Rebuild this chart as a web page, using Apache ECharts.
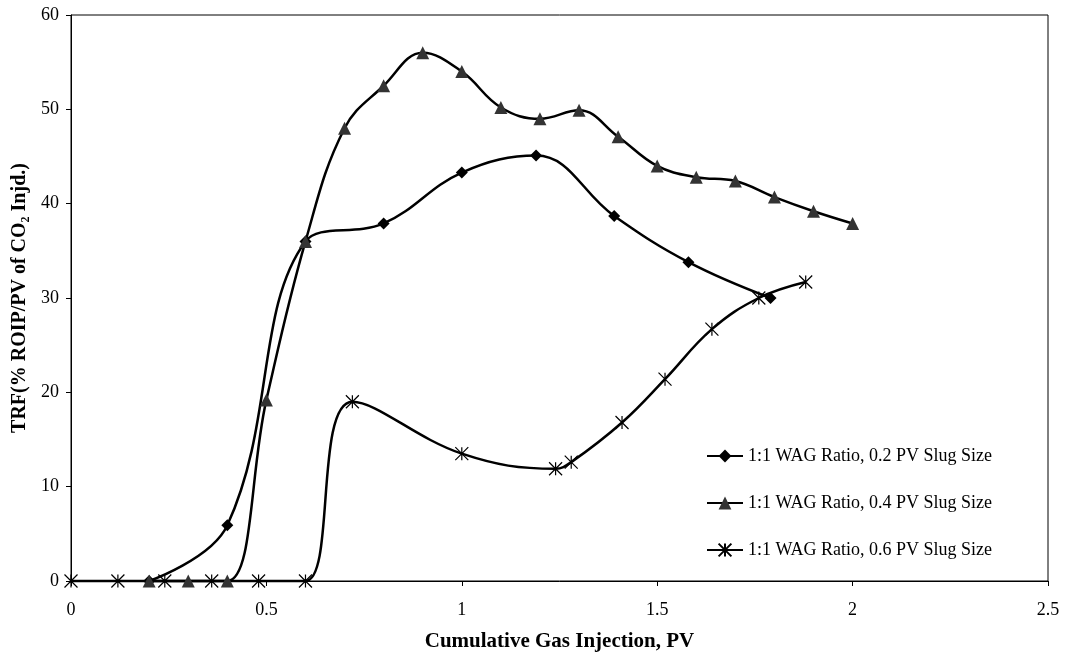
<!DOCTYPE html>
<html>
<head>
<meta charset="utf-8">
<script src="https://cdn.jsdelivr.net/npm/echarts@6/dist/echarts.min.js"></script>
<style>html,body{margin:0;padding:0;background:#fff;}#c{width:1069px;height:657px;}</style>
</head>
<body>
<div id="c"></div>
<script>
const seriesNames = ['1:1 WAG Ratio, 0.2 PV Slug Size', '1:1 WAG Ratio, 0.4 PV Slug Size', '1:1 WAG Ratio, 0.6 PV Slug Size'];
const s02x = [0.2, 0.4, 0.6, 0.8, 1.0, 1.19, 1.39, 1.58, 1.79];
const s02y = [0, 5.9, 36.0, 37.9, 43.3, 45.1, 38.7, 33.8, 30.0];
const s04x = [0.2, 0.3, 0.4, 0.5, 0.6, 0.7, 0.8, 0.9, 1.0, 1.1, 1.2, 1.3, 1.4, 1.5, 1.6, 1.7, 1.8, 1.9, 2.0];
const s04y = [0, 0, 0, 19.2, 36.0, 48.0, 52.5, 56.0, 54.0, 50.2, 49.0, 49.9, 47.1, 44.0, 42.8, 42.4, 40.7, 39.2, 37.9];
const s06x = [0, 0.12, 0.24, 0.36, 0.48, 0.6, 0.72, 1.0, 1.24, 1.28, 1.41, 1.52, 1.64, 1.76, 1.88];
const s06y = [0, 0, 0, 0, 0, 0, 19.0, 13.5, 11.9, 12.6, 16.8, 21.4, 26.7, 30.0, 31.7];
const xTicks = [0, 0.5, 1, 1.5, 2, 2.5];
const yTicks = [0, 10, 20, 30, 40, 50, 60];

function pairs(xs, ys) { return xs.map((x, i) => [x, ys[i]]); }
const font = '"Liberation Serif", "Times New Roman", serif';
const starPath = 'path://M0,0L10,10M10,0L0,10M5,0L5,10';

const chart = echarts.init(document.getElementById('c'), null, {renderer: 'canvas'});
chart.setOption({
  animation: false,
  backgroundColor: '#fff',
  grid: {left: 71, right: 21, top: 15, bottom: 76, containLabel: false, outerBoundsMode: 'none', show: true, borderColor: '#000', borderWidth: 1, backgroundColor: 'transparent'},
  xAxis: {
    type: 'value', min: xTicks[0], max: xTicks[xTicks.length - 1], interval: 0.5,
    axisLine: {lineStyle: {color: '#000', width: 1}},
    axisTick: {show: true, inside: false, length: 5, lineStyle: {color: '#000'}},
    splitLine: {show: false},
    axisLabel: {color: '#000', fontFamily: font, fontSize: 18, margin: 20},
    name: 'Cumulative Gas Injection, PV', nameLocation: 'middle', nameGap: 50,
    nameTextStyle: {color: '#000', fontFamily: font, fontSize: 21, fontWeight: 'bold'}
  },
  yAxis: {
    type: 'value', min: yTicks[0], max: yTicks[yTicks.length - 1], interval: 10,
    axisLine: {show: true, lineStyle: {color: '#000', width: 1}},
    axisTick: {show: true, inside: false, length: 5, lineStyle: {color: '#000'}},
    splitLine: {show: false},
    axisLabel: {color: '#000', fontFamily: font, fontSize: 18, margin: 12},
    name: 'TRF(% ROIP/PV of CO\u2082 Injd.)', nameLocation: 'middle', nameGap: 40, nameRotate: 90,
    nameTextStyle: {color: '#000', fontFamily: font, fontSize: 20, fontWeight: 'bold'}
  },
  legend: {
    orient: 'vertical', left: 701, top: 442, itemGap: 29, itemWidth: 36, itemHeight: 16,
    textStyle: {color: '#000', fontFamily: font, fontSize: 18},
    data: seriesNames
  },
  series: [
    {
      name: seriesNames[0], type: 'line', smooth: 0.4, clip: false,
      data: pairs(s02x, s02y), symbol: 'diamond', symbolSize: 12,
      itemStyle: {color: '#000'}, lineStyle: {color: '#000', width: 2.5}
    },
    {
      name: seriesNames[1], type: 'line', smooth: 0.4, clip: false,
      data: pairs(s04x, s04y), symbol: 'triangle', symbolSize: 13,
      itemStyle: {color: '#333'}, lineStyle: {color: '#000', width: 2.5}
    },
    {
      name: seriesNames[2], type: 'line', smooth: 0.4, clip: false,
      data: pairs(s06x, s06y), symbol: starPath, symbolSize: 13,
      itemStyle: {color: 'none', borderColor: '#000', borderWidth: 1.2}, lineStyle: {color: '#000', width: 2.5}
    }
  ]
});
</script>
</body>
</html>
